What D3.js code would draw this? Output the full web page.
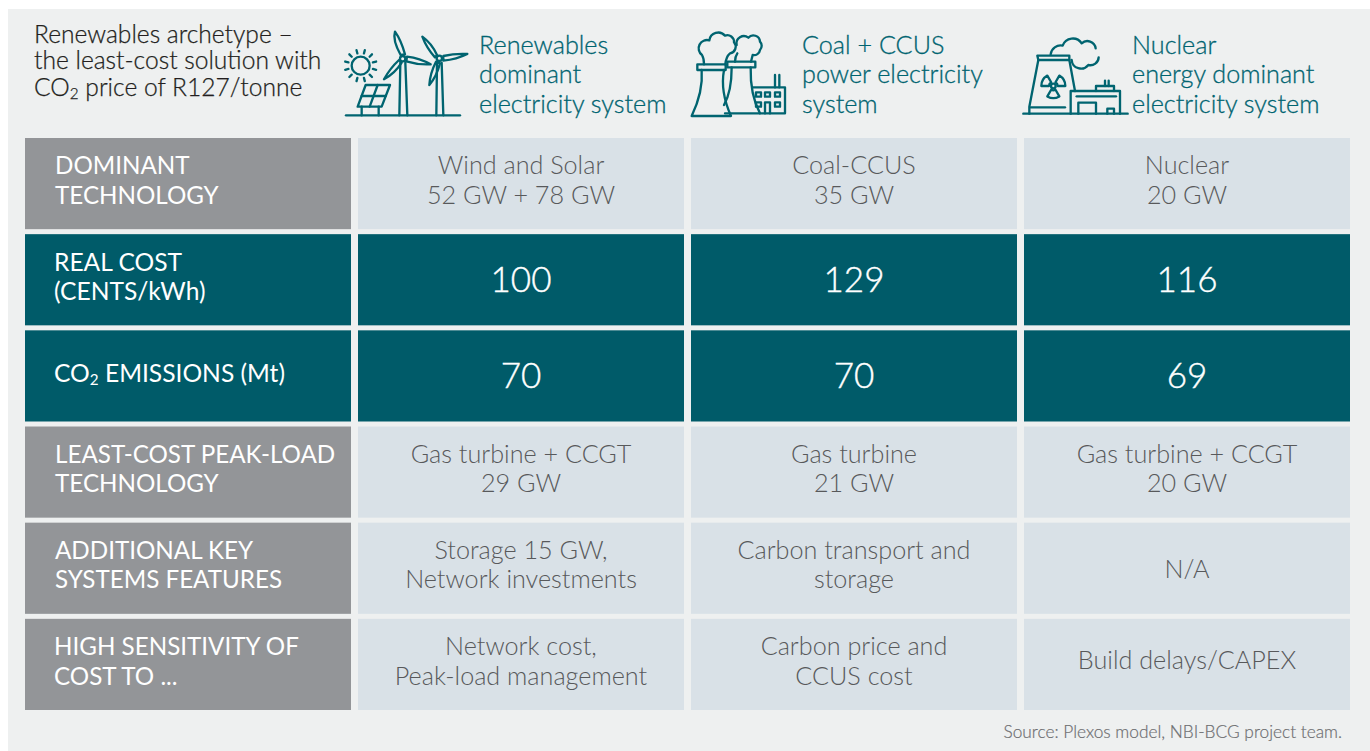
<!DOCTYPE html>
<html>
<head>
<meta charset="utf-8">
<script src="https://cdn.jsdelivr.net/npm/d3@7"></script>
<style>
  html, body { margin: 0; padding: 0; background: #fff; overflow: hidden; }
  text { font-family: Lato, "Noto Sans", sans-serif; }
</style>
</head>
<body>
<script>
const titleLines = ["Renewables archetype –", "the least-cost solution with", "CO₂ price of R127/tonne"];
const systems = [
    ["Renewables", "dominant", "electricity system"],
    ["Coal + CCUS", "power electricity", "system"],
    ["Nuclear", "energy dominant", "electricity system"]
];
const rowLabels = [
    ["DOMINANT", "TECHNOLOGY"],
    ["REAL COST", "(CENTS/kWh)"],
    ["CO₂ EMISSIONS (Mt)"],
    ["LEAST-COST PEAK-LOAD", "TECHNOLOGY"],
    ["ADDITIONAL KEY", "SYSTEMS FEATURES"],
    ["HIGH SENSITIVITY OF", "COST TO ..."]
];
const rowKinds = ["text", "number", "number", "text", "text", "text"];
const renewablesCol = [
    ["Wind and Solar", "52 GW + 78 GW"], ["100"], ["70"],
    ["Gas turbine + CCGT", "29 GW"],
    ["Storage 15 GW,", "Network investments"],
    ["Network cost,", "Peak-load management"]
];
const coalCol = [
    ["Coal-CCUS", "35 GW"], ["129"], ["70"],
    ["Gas turbine", "21 GW"],
    ["Carbon transport and", "storage"],
    ["Carbon price and", "CCUS cost"]
];
const nuclearCol = [
    ["Nuclear", "20 GW"], ["116"], ["69"],
    ["Gas turbine + CCGT", "20 GW"],
    ["N/A"],
    ["Build delays/CAPEX"]
];
const valueCols = [renewablesCol, coalCol, nuclearCol];
const sourceNote = "Source: Plexos model, NBI-BCG project team.";

const colors = { panel: "#eef0f0", grey: "#939598", light: "#d9e1e7", teal: "#005b69", text: "#58595b", head: "#006470" };

const svg = d3.select("body").append("svg")
    .attr("width", 1370)
    .attr("height", 751)
    .style("display", "block");

svg.append("rect").attr("x", 8).attr("y", 9).attr("width", 1362).attr("height", 742).attr("fill", colors.panel);

// columns: 0 is the label column, 1-3 the systems
const x = d3.scaleBand().domain(d3.range(4)).range([25, 1350]).paddingInner(7 / 333);
const y = d3.scaleBand().domain(d3.range(rowLabels.length)).range([138, 710]).paddingInner(5 / 96.2);

const lineGap = 29.5;
// rows 2, 3 and 6 sit a pixel further left in the original
const labelInset = [30, 29, 29, 30, 30, 29];
// single line cells are not quite centred, depends on the row
const singleLineShift = { 2: 6.5, 4: 9.5, 5: 4.5 };

// writes one line, turns the ₂ into a real subscript
function addLine(sel, str) {
    const parts = str.split("₂");
    sel.append("tspan").text(parts[0]);
    if (parts.length > 1) {
        sel.append("tspan").attr("font-size", "0.62em").attr("dy", "0.2em").text("2");
        sel.append("tspan").attr("dy", "-0.124em").text(parts[1]);
    }
}

rowLabels.forEach((label, r) => {
    const isNum = rowKinds[r] === "number";
    const cy = y(r) + y.bandwidth() / 2;

    svg.append("rect")
        .attr("x", x(0)).attr("y", y(r))
        .attr("width", x.bandwidth()).attr("height", y.bandwidth())
        .attr("fill", isNum ? colors.teal : colors.grey);

    label.forEach((line, i) => {
        const shift = label.length === 1 ? singleLineShift[r] : 5.5;
        const t = svg.append("text")
            .attr("x", x(0) + labelInset[r])
            .attr("y", cy + shift + (i - (label.length - 1) / 2) * lineGap)
            .attr("fill", "#fff")
            .attr("font-size", isNum ? 24.6 : 24.2)
            .attr("font-weight", 400);
        addLine(t, line);
    });

    valueCols.forEach((col, c) => {
        svg.append("rect")
            .attr("x", x(c + 1)).attr("y", y(r))
            .attr("width", x.bandwidth()).attr("height", y.bandwidth())
            .attr("fill", isNum ? colors.teal : colors.light);

        col[r].forEach((line, i) => {
            const shift = col[r].length === 1 ? singleLineShift[r] : 5.5;
            svg.append("text")
                .attr("x", x(c + 1) + x.bandwidth() / 2)
                .attr("y", isNum ? cy + 12 : cy + shift + (i - (col[r].length - 1) / 2) * lineGap)
                .attr("text-anchor", "middle")
                .attr("fill", isNum ? "#fff" : colors.text)
                .attr("stroke", isNum ? "#fff" : "none")
                .attr("stroke-width", 0.4)
                .attr("font-size", isNum ? 35 : 25.2)
                .attr("font-weight", 300)
                .text(line);
        });
    });
});

// title
const titleY = [43, 69, 96];
titleLines.forEach((line, i) => {
    const t = svg.append("text")
        .attr("x", 34).attr("y", titleY[i])
        .attr("fill", "#231f20")
        .attr("stroke", "#231f20")
        .attr("stroke-width", 0.25)
        .attr("font-size", 24.6)
        .attr("font-weight", 300);
    addLine(t, line);
});

// system headers
const headX = [479, 802, 1132];
const headY = [53.5, 82.5, 112.5];
systems.forEach((lines, c) => {
    lines.forEach((line, i) => {
        svg.append("text")
            .attr("x", headX[c]).attr("y", headY[i])
            .attr("fill", colors.head)
            .attr("stroke", colors.head)
            .attr("stroke-width", 0.3)
            .attr("font-size", 25.2)
            .attr("font-weight", 300)
            .text(line);
    });
});

svg.append("text")
    .attr("x", 1342).attr("y", 738)
    .attr("text-anchor", "end")
    .attr("fill", "#6d6e71")
    .attr("stroke", "#6d6e71")
    .attr("stroke-width", 0.2)
    .attr("font-size", 17.3)
    .attr("font-weight", 300)
    .text(sourceNote);

// icons, drawn in 3x crop units
function icon(ox, oy) {
    return svg.append("g")
        .attr("transform", `translate(${ox},${oy}) scale(${1 / 3})`)
        .attr("fill", "none")
        .attr("stroke", colors.head)
        .attr("stroke-width", 7)
        .attr("stroke-linecap", "round")
        .attr("stroke-linejoin", "round");
}
const addPaths = (g, list) => list.forEach(d => g.append("path").attr("d", d));

// renewables
const wind = icon(335, 20);
addPaths(wind, [
    "M33 286H375",
    "M92 195H165L140 260H68Z", "M80 228H152", "M128 195L104 260", "M80 260V286", "M131 260V286",
    "M196 128L193 286", "M211 128L217 286",
    "M197 105Q172 60 180 35Q198 60 210 103Z",
    "M216 110Q255 115 287 133Q250 135 214 124Z",
    "M192 120Q165 145 147 178Q180 160 200 128Z",
    "M306 128L304 286", "M320 128L325 286",
    "M306 105Q290 70 262 50Q275 85 300 112Z",
    "M325 108Q360 100 397 102Q365 118 325 122Z",
    "M303 125Q285 160 283 195Q305 170 315 130Z"
]);
wind.append("circle").attr("cx", 77).attr("cy", 137).attr("r", 27);
wind.append("circle").attr("cx", 203).attr("cy", 116).attr("r", 8);
wind.append("circle").attr("cx", 313).attr("cy", 115).attr("r", 8);
d3.range(12).forEach(k => {
    const a = (k + 0.5) * Math.PI / 6;
    wind.append("line")
        .attr("x1", 77 + 38 * Math.cos(a)).attr("y1", 137 + 38 * Math.sin(a))
        .attr("x2", 77 + 48 * Math.cos(a)).attr("y2", 137 + 48 * Math.sin(a));
});

// coal
const coal = icon(680, 15);
addPaths(coal, [
    "M65 165Q70 230 35 303H153Q120 230 132 165",
    "M72 148Q72 130 66 120A25 25 0 0 1 88 76A27 27 0 0 1 135 62A20 20 0 0 1 162 82A20 20 0 0 1 150 115Q138 125 136 148",
    "M155 157Q155 230 132 270", "M212 157Q210 240 240 295", "M135 295H315V217H218",
    "M165 140Q165 125 172 115", "M170 90A22 22 0 0 1 205 68A20 20 0 0 1 240 80A18 18 0 0 1 240 105A18 18 0 0 1 218 120L213 140",
    "M285 180V217", "M298 180V217", "M255 295V262H270V295"
]);
coal.append("rect").attr("x", 52).attr("y", 148).attr("width", 85).attr("height", 17);
coal.append("rect").attr("x", 142).attr("y", 140).attr("width", 84).attr("height", 17);
[[228, 232], [255, 232], [285, 232], [228, 262], [285, 262]].forEach(p => {
    coal.append("rect").attr("x", p[0]).attr("y", p[1]).attr("width", 15).attr("height", 13);
});

// nuclear
const nuke = icon(1010, 15);
addPaths(nuke, [
    "M40 296H353",
    "M82 122H178V135H85Z", "M85 135L58 275V296", "M178 135L195 228", "M62 277H165",
    "M182 296V228H330V296", "M200 244H318", "M205 296V263H258V296", "M292 296V281H312V296",
    "M258 228V213H312V228", "M285 197V213", "M296 197V213",
    "M122 118A30 30 0 0 1 158 92A32 32 0 0 1 215 85A25 25 0 0 1 257 100",
    "M185 135A28 28 0 0 0 235 150A25 25 0 0 0 266 127"
]);
const bladeArc = d3.arc().innerRadius(13).outerRadius(36);
[-60, 60, 180].forEach(deg => {
    nuke.append("path")
        .attr("transform", "translate(130,213)")
        .attr("d", bladeArc({ startAngle: (deg - 30) * Math.PI / 180, endAngle: (deg + 30) * Math.PI / 180 }));
});
nuke.append("circle").attr("cx", 130).attr("cy", 213).attr("r", 7);
</script>
</body>
</html>
